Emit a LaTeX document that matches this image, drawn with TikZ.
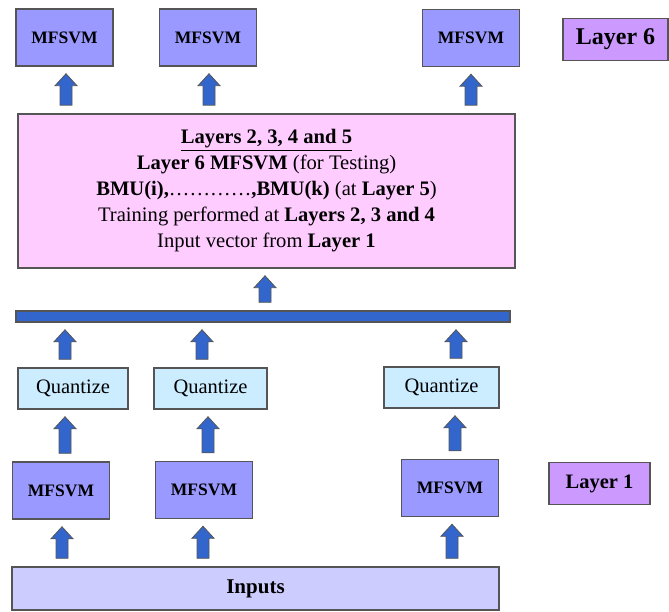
\documentclass[tikz,border=0pt]{standalone}
\usepackage{fontspec}
\setmainfont{Liberation Serif}
\usetikzlibrary{calc}
\definecolor{mfblue}{HTML}{9999FF}
\definecolor{laylilac}{HTML}{CC99FF}
\definecolor{midpink}{HTML}{FFCCFF}
\definecolor{quantcyan}{HTML}{CCECFF}
\definecolor{inplav}{HTML}{CCCCFF}
\definecolor{arrblue}{HTML}{3366CC}
\definecolor{boxline}{HTML}{555555}
\tikzset{
  box/.style={draw=boxline, line width=1.5pt, inner sep=0pt, align=center},
  mfsvm/.style={box, fill=mfblue, minimum width=97pt, minimum height=57pt,
    font=\fontsize{17.5}{20}\selectfont\bfseries},
  quant/.style={box, fill=quantcyan, minimum height=41pt,
    font=\fontsize{20.5}{24}\selectfont},
  laytag/.style={box, fill=laylilac, minimum height=42pt,
    font=\fontsize{20.5}{24}\selectfont\bfseries},
  blkarr/.style={draw=boxline, fill=arrblue, line width=0.8pt,
    to path={let \p1=(\tikztostart), \p2=(\tikztotarget) in
      (\x1+#1-6pt,\y1+8pt) -- (\x1+#1-6pt,\y2-19pt) -- (\x1+#1-11pt,\y2-19pt)
      -- (\x1+#1,\y2-7pt) -- (\x1+#1+11pt,\y2-19pt) -- (\x1+#1+6pt,\y2-19pt)
      -- (\x1+#1+6pt,\y1+8pt) -- cycle}},
  blkarr/.default=0pt
}
\begin{document}
\begin{tikzpicture}[x=1pt,y=-1pt]
  \useasboundingbox (0,0) rectangle (669,612);

  % layer 6
  \node[mfsvm] (t1) at (64.5,37.5) {MFSVM};
  \node[mfsvm] (t2) at (208,37.5) {MFSVM};
  \node[mfsvm] (t3) at (471,38) {MFSVM};
  \node[laytag, minimum width=105pt, font=\fontsize{24}{28}\selectfont\bfseries] (lay6) at (615.5,39.5) {Layer 6};

  % layers 2 to 5
  \node[box, fill=midpink, minimum width=497pt, minimum height=154pt,
    font=\fontsize{20.6}{26}\selectfont] (mid) at (266.5,191)
    {\underline{\textbf{Layers 2, 3, 4 and 5}}\\
     \textbf{Layer 6 MFSVM} (for Testing)\\
     \textbf{BMU(i),}…………\textbf{,BMU(k)} (at \textbf{Layer 5})\\
     Training performed at \textbf{Layers 2, 3 and 4}\\
     Input vector from \textbf{Layer 1}};
  \node[box, fill=arrblue, minimum width=494pt, minimum height=11pt] (bar) at (263,316.5) {};

  % quantizers
  \node[quant, minimum width=110pt] (q1) at (73,388.5) {Quantize};
  \node[quant, minimum width=113pt] (q2) at (210.5,388.5) {Quantize};
  \node[quant, minimum width=115pt] (q3) at (441.5,387.5) {Quantize};

  % layer 1
  \node[mfsvm] (b1) at (61,490.5) {MFSVM};
  \node[mfsvm] (b2) at (204,490) {MFSVM};
  \node[mfsvm] (b3) at (450,488) {MFSVM};
  \node[laytag, minimum width=101pt] (lay1) at (599.5,483.5) {Layer 1};

  \node[box, fill=inplav, minimum width=487pt, minimum height=43pt,
    font=\fontsize{21}{24}\selectfont\bfseries] (inp) at (255.5,588.5) {Inputs};

  % arrows
  \draw[blkarr=1pt] (inp.north -| b1.south) to (b1.south);
  \draw[blkarr=-1pt] (inp.north -| b2.south) to (b2.south);
  \draw[blkarr=2pt] (inp.north -| b3.south) to (b3.south);
  \draw[blkarr=4pt] (b1.north) to (q1.south);
  \draw[blkarr=4pt] (b2.north) to (q2.south);
  \draw[blkarr=5pt] (b3.north) to (q3.south);
  \draw[blkarr=-8pt] (q1.north) to (bar.south);
  \draw[blkarr=-8.5pt] (q2.north) to (bar.south);
  \draw[blkarr=14.5pt] (q3.north) to (bar.south);
  \draw[blkarr=2pt] (bar.north) to (mid.south);
  \draw[blkarr=1.5pt] (mid.north -| t1.south) to (t1.south);
  \draw[blkarr=1pt] (mid.north -| t2.south) to (t2.south);
  \draw[blkarr] (mid.north -| t3.south) to (t3.south);
\end{tikzpicture}
\end{document}
